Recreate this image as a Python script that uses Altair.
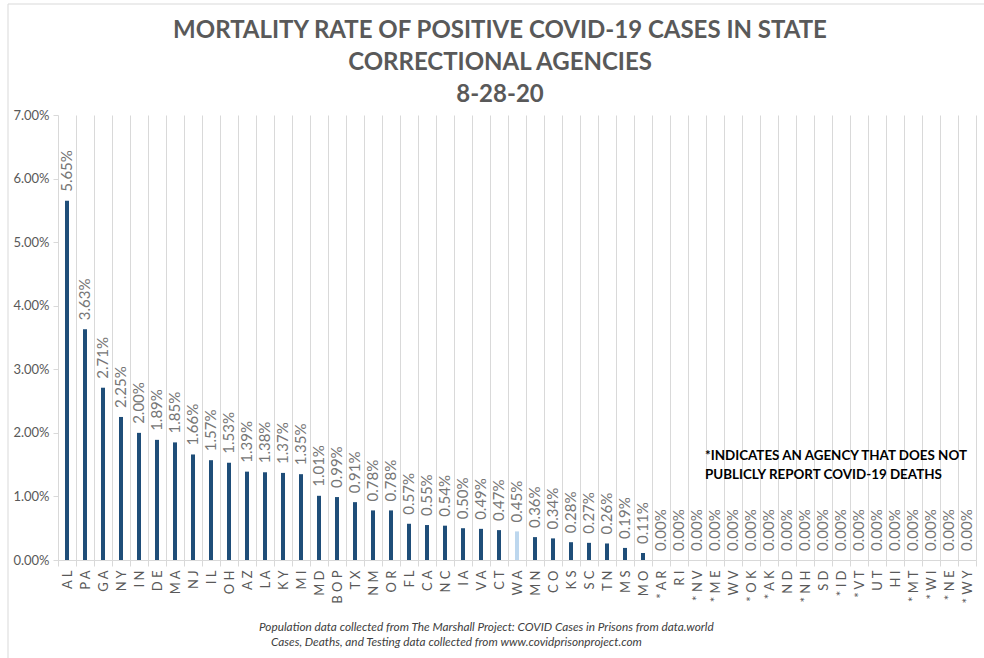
import altair as alt
import pandas as pd

# Agencies in chart order (an asterisk marks agencies without public death reporting)
agencies = ["AL", "PA", "GA", "NY", "IN", "DE", "MA", "NJ", "IL", "OH", "AZ", "LA", "KY",
            "MI", "MD", "BOP", "TX", "NM", "OR", "FL", "CA", "NC", "IA", "VA", "CT", "WA",
            "MN", "CO", "KS", "SC", "TN", "MS", "MO", "*AR", "RI", "*NV", "*ME", "WV",
            "*OK", "*AK", "ND", "*NH", "SD", "*ID", "*VT", "UT", "HI", "*MT", "*WI",
            "*NE", "*WY"]

# Mortality rate of positive cases, in percent
mortality_pct = [5.65, 3.63, 2.71, 2.25, 2.00, 1.89, 1.85, 1.66, 1.57, 1.53, 1.39, 1.38,
                 1.37, 1.35, 1.01, 0.99, 0.91, 0.78, 0.78, 0.57, 0.55, 0.54, 0.50, 0.49,
                 0.47, 0.45, 0.36, 0.34, 0.28, 0.27, 0.26, 0.19, 0.11, 0.00, 0.00, 0.00,
                 0.00, 0.00, 0.00, 0.00, 0.00, 0.00, 0.00, 0.00, 0.00, 0.00, 0.00, 0.00,
                 0.00, 0.00, 0.00]

y_ticks = [0.00, 0.01, 0.02, 0.03, 0.04, 0.05, 0.06, 0.07]

title_text = ("MORTALITY RATE OF POSITIVE COVID-19 CASES IN STATE\n"
              "CORRECTIONAL AGENCIES\n"
              "8-28-20")
note_text = "*INDICATES AN AGENCY THAT DOES NOT\nPUBLICLY REPORT COVID-19 DEATHS"
source_lines = ["Population data collected from The Marshall Project:  COVID Cases in Prisons from data.world",
                "Cases, Deaths, and Testing data collected from www.covidprisonproject.com"]

df = pd.DataFrame({"agency": agencies, "rate": [v / 100 for v in mortality_pct]})
one = pd.DataFrame({"k": [0]})

W, H = 918, 445
FONT = "Lato"
GRID = "#D9D9D9"
DARK = "#1F4E79"
LIGHT = "#BDD7EE"

x_enc = alt.X(
    "agency:N", sort=agencies,
    scale=alt.Scale(paddingInner=0, paddingOuter=0),
    axis=alt.Axis(title=None, labelAngle=270,
                  labelExpr="join(split(datum.label, ''), ' ')",
                  labelFont=FONT, labelFontSize=13, labelColor="#595959",
                  labelPadding=4, tickBand="extent", tickSize=6, tickColor=GRID,
                  domainColor=GRID, grid=True, gridColor=GRID),
)
y_enc = alt.Y(
    "rate:Q", scale=alt.Scale(domain=[0, 0.07], nice=False),
    axis=alt.Axis(title=None, values=y_ticks, format=".2%", grid=False, domain=False,
                  tickSize=5, tickColor=GRID, labelFont=FONT, labelFontSize=13,
                  labelColor="#595959", labelPadding=4),
)

base = alt.Chart(df).encode(x=x_enc, y=y_enc)

bars = base.mark_bar(size=4).encode(
    color=alt.condition(alt.datum.agency == "WA", alt.value(LIGHT), alt.value(DARK))
)

values = base.mark_text(angle=270, align="left", baseline="middle", dx=9,
                        font=FONT, fontSize=15, color="#767676").encode(
    text=alt.Text("rate:Q", format=".2%")
)

# Light frame around the whole figure
frame = alt.Chart(one).mark_rect(fill=None, stroke=GRID, strokeWidth=1).encode(
    x=alt.value(-50), x2=alt.value(W + 40), y=alt.value(-111), y2=alt.value(H + 150)
)

heading = alt.Chart(one).mark_text(
    align="center", baseline="top", font=FONT, fontSize=24, fontWeight="bold",
    color="#595959", lineBreak="\n", lineHeight=32
).encode(x=alt.value(W / 2 - 17), y=alt.value(-96), text=alt.value(title_text))

note = alt.Chart(one).mark_text(
    align="left", baseline="top", font=FONT, fontSize=13.4, fontWeight="bold",
    color="#000000", lineBreak="\n", lineHeight=19
).encode(x=alt.value(647), y=alt.value(334), text=alt.value(note_text))

src1 = alt.Chart(one).mark_text(
    align="left", baseline="middle", font=FONT, fontSize=11.8, fontStyle="italic",
    color="#404040"
).encode(x=alt.value(201), y=alt.value(512), text=alt.value(source_lines[0]))

src2 = alt.Chart(one).mark_text(
    align="left", baseline="middle", font=FONT, fontSize=11.8, fontStyle="italic",
    color="#404040"
).encode(x=alt.value(213), y=alt.value(527), text=alt.value(source_lines[1]))

chart = alt.layer(frame, bars, values, heading, note, src1, src2).properties(
    width=W, height=H,
    padding={"left": 58, "top": 115, "right": 8, "bottom": 98},
    autosize=alt.AutoSizeParams(type="none"),
    background="white",
).configure_view(strokeWidth=0)

chart.save("out.html", embed_options={"renderer": "svg", "actions": False})
